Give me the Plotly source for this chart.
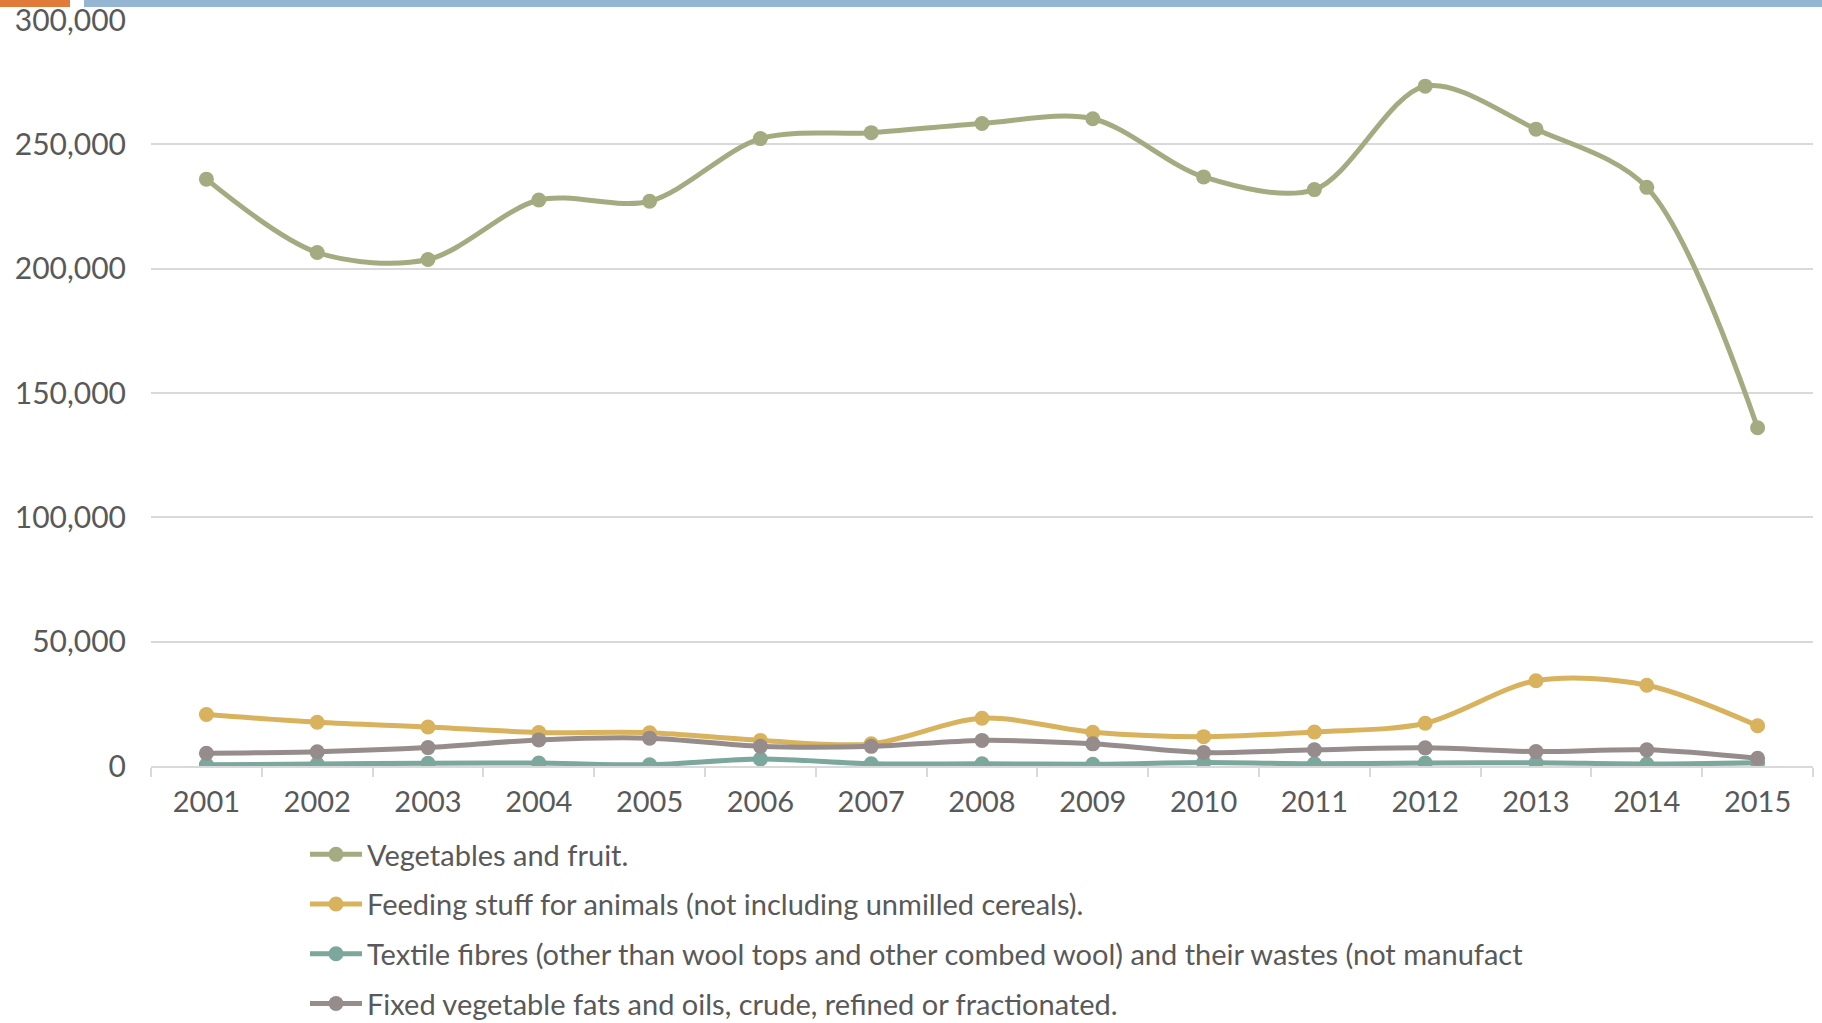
import plotly.graph_objects as go

years = ["2001", "2002", "2003", "2004", "2005", "2006", "2007", "2008",
         "2009", "2010", "2011", "2012", "2013", "2014", "2015"]

vegetables = [236000, 206500, 203700, 227600, 227100, 252300, 254700, 258400,
              260300, 236900, 231800, 273400, 256100, 232700, 136000]
feeding = [20700, 17600, 15700, 13500, 13400, 10300, 8900, 19200,
           13600, 11800, 13700, 17200, 34300, 32500, 16200]
textile = [500, 800, 1100, 1200, 500, 2800, 900, 900,
           700, 1400, 900, 1200, 1300, 800, 1300]
fats = [5100, 5700, 7400, 10500, 11200, 7900, 7900, 10300,
        8900, 5400, 6500, 7300, 5800, 6500, 3100]

names = [
    "Vegetables and fruit.",
    "Feeding stuff for animals (not including unmilled cereals).",
    "Textile fibres (other than wool tops and other combed wool) and their wastes (not manufact",
    "Fixed vegetable fats and oils, crude, refined or fractionated.",
]
series = [vegetables, feeding, textile, fats]
colors = ["#A5AB81", "#D8B25C", "#7BA79D", "#968C8C"]

FONT = "Lato"
TXT = "#595959"

fig = go.Figure()
for i, (nm, vals, col) in enumerate(zip(names, series, colors)):
    fig.add_trace(go.Scatter(
        x=years, y=vals, name=nm, mode="lines+markers",
        line=dict(color=col, width=5, shape="spline", smoothing=0.9),
        marker=dict(color=col, size=15),
        legendgroup=f"g{i}",
    ))

W, H = 1822, 1023
L, R, T, B = 151, 9, 20, 257
pw = W - L - R
ph = H - T - B

def px_x(x):
    return (x - L) / pw

def px_y(y):
    return (H - B - y) / ph

fig.update_layout(
    width=W, height=H,
    margin=dict(l=L, r=R, t=T, b=B, autoexpand=False),
    paper_bgcolor="white", plot_bgcolor="white",
    font=dict(family=FONT, color=TXT),
    showlegend=True,
    legend=dict(
        x=px_x(305), xanchor="left",
        y=px_y(829), yanchor="top",
        font=dict(size=29, color=TXT, family=FONT),
        tracegroupgap=9,
        itemwidth=52,
        bgcolor="rgba(0,0,0,0)",
    ),
    xaxis=dict(
        type="category",
        automargin=False,
        showgrid=False,
        showline=True, linecolor="#D9D9D9", linewidth=1.5,
        ticks="outside", tickson="boundaries", ticklen=9,
        tickcolor="#D9D9D9", tickwidth=1.5,
        tickfont=dict(size=29, color=TXT, family=FONT),
        ticklabelstandoff=9,
        range=[-0.5, 14.5],
    ),
    yaxis=dict(
        range=[0, 300000],
        automargin=False,
        tickvals=[0, 50000, 100000, 150000, 200000, 250000, 300000],
        ticktext=["0", "50,000", "100,000", "150,000", "200,000", "250,000", "300,000"],
        showgrid=True, gridcolor="#D9D9D9", gridwidth=1.5,
        zeroline=False,
        showline=False,
        tickfont=dict(size=30, color=TXT, family=FONT),
        ticklabelstandoff=24,
    ),
    shapes=[
        dict(type="rect", xref="paper", yref="paper",
             x0=px_x(0), x1=px_x(70), y0=px_y(7), y1=px_y(0),
             fillcolor="#E07B39", line=dict(width=0), layer="above"),
        dict(type="rect", xref="paper", yref="paper",
             x0=px_x(84), x1=px_x(1822), y0=px_y(7), y1=px_y(0),
             fillcolor="#94B6D2", line=dict(width=0), layer="above"),
    ],
)

fig.write_html(
    "out.html",
    config={"displayModeBar": False},
    post_script="document.body.style.margin='0';document.body.style.overflow='hidden';",
)
